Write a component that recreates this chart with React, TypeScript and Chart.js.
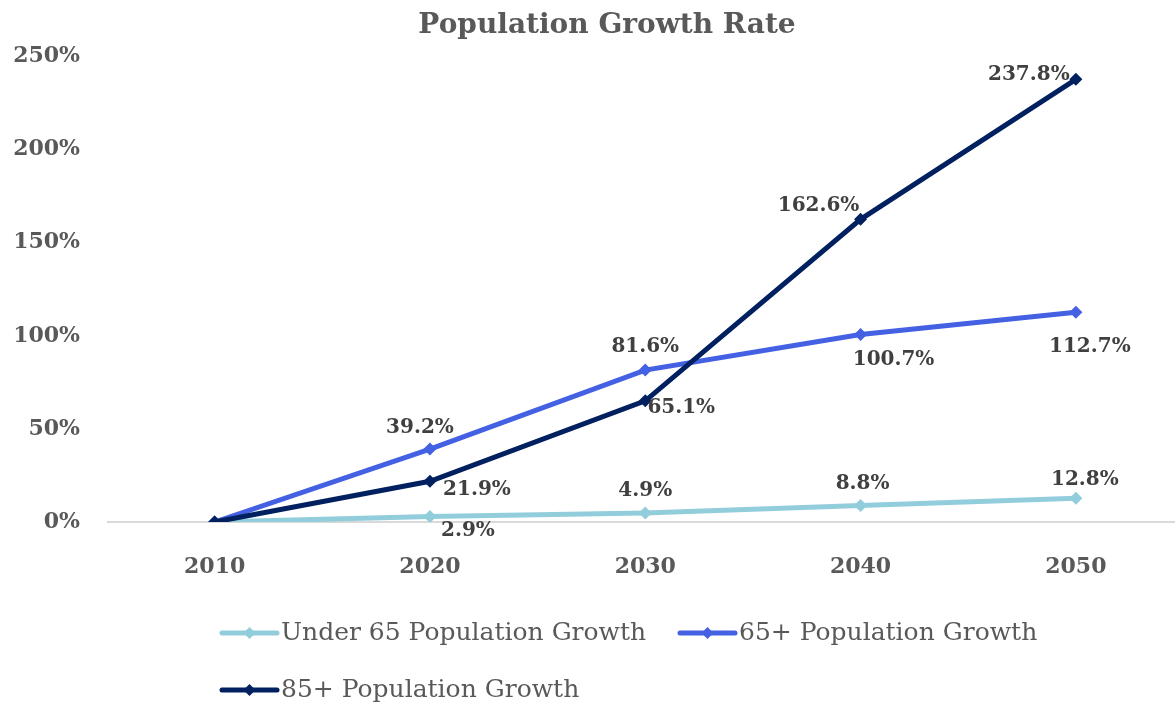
import { useEffect, useRef } from 'react';
import { Chart, registerables } from 'chart.js';

Chart.register(...registerables);

const years = ['2010', '2020', '2030', '2040', '2050'];
const under65 = [0, 2.9, 4.9, 8.8, 12.8];
const over65 = [0, 39.2, 81.6, 100.7, 112.7];
const over85 = [0, 21.9, 65.1, 162.6, 237.8];
const seriesNames = ['Under 65 Population Growth', '65+ Population Growth', '85+ Population Growth'];
const seriesColors = ['#92CDDC', '#4461E4', '#002060'];
const yTickValues = [0, 50, 100, 150, 200, 250];
const titleText = 'Population Growth Rate';

// label offsets (dx, dy) from each point, null = no label
const labelOffsets: ([number, number] | null)[][] = [
  [null, [38, 14], [0, -22], [2, -22], [9, -18]],
  [null, [-10, -21], [0, -23], [33, 25], [14, 35]],
  [null, [47, 9], [36, 7], [-42, -14], [-47, -5]],
];

const FONT = "'DejaVu Serif', serif";

const labelPlugin = {
  id: 'customLabels',
  afterDatasetsDraw(chart: any) {
    const ctx = chart.ctx;
    ctx.save();
    ctx.font = `bold 20px ${FONT}`;
    ctx.fillStyle = '#404040';
    ctx.textAlign = 'center';
    ctx.textBaseline = 'middle';
    chart.data.datasets.forEach((ds: any, di: number) => {
      const meta = chart.getDatasetMeta(di);
      meta.data.forEach((pt: any, i: number) => {
        const off = labelOffsets[di][i];
        if (!off) return;
        ctx.fillText(ds.data[i].toFixed(1) + '%', pt.x + off[0], pt.y + off[1]);
      });
    });
    ctx.restore();
  },
  afterDraw(chart: any) {
    const ctx = chart.ctx;
    ctx.save();
    // title
    ctx.font = `bold 28px ${FONT}`;
    ctx.fillStyle = '#595959';
    ctx.textAlign = 'center';
    ctx.textBaseline = 'middle';
    ctx.fillText(titleText, 607, 26);
    // legend
    ctx.font = `25px ${FONT}`;
    ctx.textBaseline = 'middle';
    ctx.textAlign = 'left';
    const items = [
      { x: 222, y: 633, i: 0 },
      { x: 680, y: 633, i: 1 },
      { x: 222, y: 690, i: 2 },
    ];
    items.forEach(({ x, y, i }) => {
      ctx.strokeStyle = seriesColors[i];
      ctx.fillStyle = seriesColors[i];
      ctx.lineWidth = 5;
      ctx.lineCap = 'round';
      ctx.beginPath();
      ctx.moveTo(x, y);
      ctx.lineTo(x + 55, y);
      ctx.stroke();
      const cx = x + 27.5;
      const r = 6;
      ctx.beginPath();
      ctx.moveTo(cx, y - r);
      ctx.lineTo(cx + r, y);
      ctx.lineTo(cx, y + r);
      ctx.lineTo(cx - r, y);
      ctx.closePath();
      ctx.fill();
      ctx.fillStyle = '#595959';
      ctx.fillText(seriesNames[i], x + 59, y);
    });
    ctx.restore();
  },
};

export default function App() {
  const canvasRef = useRef<HTMLCanvasElement | null>(null);

  useEffect(() => {
    document.body.style.margin = '0';
    document.body.style.overflow = 'hidden';
    const canvas = canvasRef.current;
    if (!canvas) return;
    const seriesData = [under65, over65, over85];
    const chart = new Chart(canvas, {
      type: 'line',
      data: {
        labels: years,
        datasets: seriesData.map((d, i) => ({
          label: seriesNames[i],
          data: d,
          borderColor: seriesColors[i],
          backgroundColor: seriesColors[i],
          borderWidth: 5,
          pointStyle: 'rectRot',
          pointRadius: 6.5,
          pointHoverRadius: 6.5,
          pointBorderWidth: 0,
          tension: 0,
          order: 3 - i,
        })),
      },
      options: {
        responsive: true,
        maintainAspectRatio: false,
        animation: false,
        layout: { padding: { top: 0, right: 2, left: 0, bottom: 0 } },
        plugins: {
          legend: { display: false },
          tooltip: { enabled: false },
          title: {
            display: true,
            text: titleText,
            color: 'rgba(0,0,0,0)',
            font: { family: FONT, size: 28, weight: 'bold' },
            padding: { top: 8, bottom: 15 },
          },
        },
        scales: {
          x: {
            offset: true,
            grid: { display: false, drawTicks: false },
            border: { display: false },
            ticks: {
              color: '#595959',
              font: { family: FONT, size: 22, weight: 'bold' },
              padding: 32,
            },
            afterFit(scale: any) {
              scale.height = 182;
            },
          },
          y: {
            min: 0,
            max: 250,
            afterBuildTicks(scale: any) {
              scale.ticks = yTickValues.map((v) => ({ value: v }));
            },
            grid: {
              drawTicks: false,
              lineWidth: 2,
              color: (c: any) => (c.tick && c.tick.value === 0 ? '#D9D9D9' : 'rgba(0,0,0,0)'),
            },
            border: { display: false },
            ticks: {
              color: '#595959',
              font: { family: FONT, size: 22, weight: 'bold' },
              padding: 27,
              callback: (v: any) => v + '%',
            },
            afterFit(scale: any) {
              scale.width = 107;
            },
          },
        },
      },
      plugins: [labelPlugin],
    });
    return () => chart.destroy();
  }, []);

  return (
    <div style={{ width: 1190, height: 704, position: 'relative' }}>
      <canvas ref={canvasRef} />
    </div>
  );
}
